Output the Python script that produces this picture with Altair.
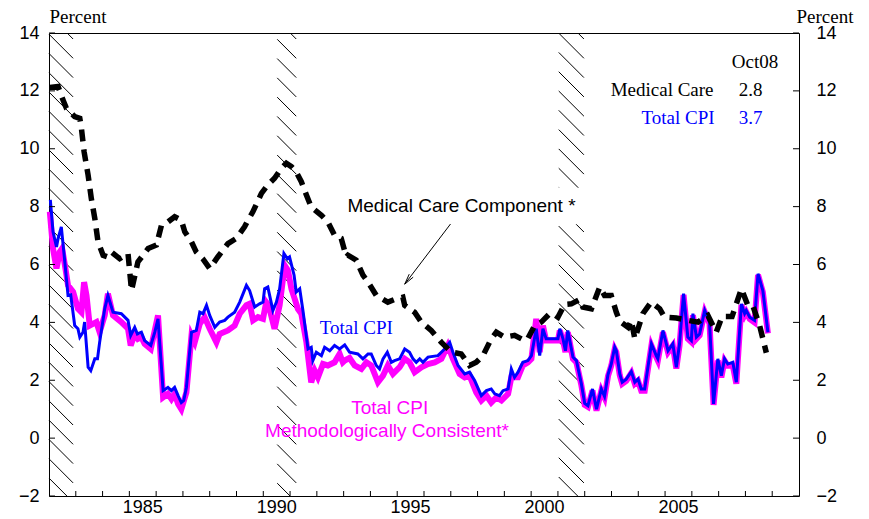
import math
import altair as alt
import pandas as pd

# ---------------- data ----------------
med_t = [1982.03, 1982.34, 1982.52, 1982.65, 1982.96, 1983.15, 1983.21, 1983.31, 1983.46, 1983.58,
         1983.71, 1983.83, 1984.02, 1984.20, 1984.33, 1984.64, 1984.95, 1985.08, 1985.32, 1985.51,
         1985.70, 1986.01, 1986.20, 1986.44, 1986.69, 1986.94, 1987.07, 1987.32, 1987.50, 1987.74,
         1988.00, 1988.30, 1988.68, 1988.99, 1989.30, 1989.43, 1989.61, 1989.93, 1990.17, 1990.42,
         1990.67, 1990.86, 1991.05, 1991.23, 1991.42, 1991.61, 1991.79, 1992.17, 1992.41, 1992.66,
         1992.91, 1993.10, 1993.16, 1993.47, 1993.72, 1993.91, 1994.22, 1994.65, 1994.90, 1995.21,
         1995.28, 1995.65, 1995.90, 1996.27, 1996.65, 1997.02, 1997.39, 1997.70, 1997.95, 1998.20,
         1998.51, 1998.70, 1999.01, 1999.38, 1999.76, 1999.87, 2000.13, 2000.38, 2000.69, 2000.81,
         2001.00, 2001.25, 2001.50, 2001.81, 2001.93, 2002.25, 2002.37, 2002.56, 2002.74, 2002.99,
         2003.18, 2003.31, 2003.62, 2003.74, 2003.87, 2004.17, 2004.48, 2004.80, 2004.98, 2005.42,
         2005.85, 2006.23, 2006.60, 2006.91, 2007.13, 2007.50, 2007.85, 2008.09, 2008.27, 2008.53,
         2008.78]
med_v = [12.12, 12.15, 11.69, 11.40, 11.11, 11.05, 10.71, 9.90, 9.09, 8.28,
         7.59, 6.78, 6.32, 6.26, 6.43, 6.20, 6.38, 5.10, 6.09, 6.32,
         6.55, 6.67, 7.36, 7.47, 7.65, 7.53, 7.13, 6.78, 6.43, 6.20,
         5.86, 6.26, 6.72, 6.90, 7.30, 7.53, 7.82, 8.46, 8.75, 8.98,
         9.32, 9.50, 9.38, 9.20, 8.86, 8.40, 7.99, 7.70, 7.47, 7.01,
         6.90, 6.26, 6.32, 6.15, 5.63, 5.39, 4.93, 4.70, 4.79, 4.87,
         4.59, 4.35, 4.01, 3.72, 3.31, 2.97, 2.91, 2.51, 2.62, 2.85,
         3.43, 3.66, 3.49, 3.55, 3.37, 3.43, 3.89, 4.01, 4.30, 4.30,
         4.18, 4.62, 4.64, 4.79, 4.53, 4.47, 4.76, 5.22, 4.93, 4.93,
         4.35, 4.04, 3.83, 4.07, 3.43, 4.30, 4.70, 4.47, 4.18, 4.15,
         4.07, 4.01, 4.24, 3.66, 4.20, 4.20, 5.16, 4.59, 4.59, 3.89,
         2.95]

cpi_t = [1982.05, 1982.15, 1982.28, 1982.34, 1982.46, 1982.59, 1982.71, 1982.81, 1982.96, 1983.08,
         1983.15, 1983.27, 1983.33, 1983.46, 1983.56, 1983.71, 1983.81, 1983.89, 1984.08, 1984.20,
         1984.39, 1984.70, 1984.95, 1985.05, 1985.20, 1985.30, 1985.45, 1985.57, 1985.80, 1985.95,
         1986.07, 1986.26, 1986.44, 1986.57, 1986.69, 1986.82, 1986.94, 1987.03, 1987.13, 1987.32,
         1987.50, 1987.63, 1987.75, 1987.88, 1988.00, 1988.19, 1988.37, 1988.56, 1988.68, 1988.93,
         1989.12, 1989.37, 1989.49, 1989.68, 1989.86, 1989.99, 1990.05, 1990.17, 1990.36, 1990.49,
         1990.61, 1990.77, 1990.90, 1990.98, 1991.15, 1991.23, 1991.36, 1991.48, 1991.67, 1991.79,
         1991.85, 1991.98, 1992.17, 1992.29, 1992.48, 1992.66, 1992.85, 1993.04, 1993.22, 1993.53,
         1993.72, 1993.91, 1994.03, 1994.22, 1994.34, 1994.47, 1994.63, 1994.78, 1994.90, 1995.09,
         1995.28, 1995.46, 1995.59, 1995.71, 1995.84, 1995.96, 1996.15, 1996.52, 1996.77, 1996.96,
         1997.08, 1997.27, 1997.52, 1997.70, 1997.89, 1998.14, 1998.33, 1998.51, 1998.64, 1998.82,
         1998.95, 1999.14, 1999.26, 1999.38, 1999.51, 1999.69, 1999.88, 2000.01, 2000.19, 2000.32,
         2000.44, 2000.56, 2001.00, 2001.07, 2001.19, 2001.28, 2001.37, 2001.56, 2001.69, 2001.87,
         2002.00, 2002.12, 2002.29, 2002.44, 2002.62, 2002.74, 2002.87, 2002.99, 2003.12, 2003.18,
         2003.31, 2003.40, 2003.55, 2003.74, 2003.87, 2003.99, 2004.11, 2004.24, 2004.49, 2004.67,
         2004.73, 2004.92, 2005.11, 2005.29, 2005.42, 2005.54, 2005.69, 2005.85, 2005.98, 2006.04,
         2006.17, 2006.29, 2006.48, 2006.66, 2006.81, 2006.97, 2007.10, 2007.22, 2007.34, 2007.53,
         2007.66, 2007.85, 2007.97, 2008.03, 2008.16, 2008.34, 2008.47, 2008.65, 2008.84]
cpi_v = [8.23, 7.13, 6.61, 6.90, 7.30, 6.09, 4.93, 4.95, 3.89, 3.78,
         3.49, 3.66, 4.01, 2.45, 2.33, 2.74, 2.74, 3.31, 4.47, 4.93,
         4.35, 4.30, 4.07, 3.55, 3.83, 3.60, 3.66, 3.37, 3.20, 3.66,
         4.12, 1.64, 1.75, 1.64, 1.75, 1.47, 1.23, 1.30, 1.75, 3.66,
         3.72, 4.35, 4.30, 4.59, 4.24, 3.83, 4.01, 4.07, 4.18, 4.35,
         4.70, 5.28, 5.10, 4.53, 4.64, 4.70, 5.16, 5.22, 4.41, 4.70,
         5.16, 6.38, 6.20, 6.26, 5.63, 5.05, 5.16, 4.41, 3.08, 3.14,
         2.68, 2.97, 2.85, 3.14, 3.02, 3.20, 3.08, 3.22, 2.97, 2.91,
         2.74, 2.91, 2.91, 2.51, 2.39, 2.74, 2.97, 2.62, 2.68, 2.74,
         3.08, 2.97, 2.74, 2.62, 2.74, 2.62, 2.80, 2.85, 3.08, 3.31,
         2.97, 2.51, 2.22, 2.28, 1.99, 1.47, 1.64, 1.70, 1.53, 1.47,
         1.64, 1.70, 2.39, 2.10, 2.28, 2.62, 2.68, 2.85, 3.78, 2.85,
         3.78, 3.43, 3.43, 3.78, 3.43, 3.02, 3.72, 2.80, 2.68, 1.90,
         1.20, 1.12, 1.70, 1.00, 1.70, 1.44, 2.20, 2.56, 3.14, 3.02,
         2.22, 1.93, 2.04, 2.30, 1.93, 2.04, 1.70, 1.70, 3.26, 2.85,
         2.74, 3.72, 3.02, 3.26, 2.45, 3.26, 4.99, 3.49, 3.37, 4.30,
         3.49, 3.60, 4.41, 4.01, 1.18, 2.74, 2.16, 2.74, 2.56, 2.62,
         1.93, 4.64, 4.30, 4.41, 4.18, 4.07, 5.68, 5.10, 3.66]

mc_t = [1982.03, 1982.15, 1982.28, 1982.40, 1982.49, 1982.59, 1982.71, 1982.90, 1983.08, 1983.21,
        1983.31, 1983.40, 1983.52, 1983.64, 1983.77, 1983.89, 1984.08, 1984.20, 1984.39, 1984.70,
        1984.95, 1985.05, 1985.20, 1985.32, 1985.45, 1985.57, 1985.80, 1986.07, 1986.26, 1986.44,
        1986.57, 1986.69, 1986.82, 1986.94, 1987.13, 1987.32, 1987.44, 1987.63, 1987.81, 1988.00,
        1988.25, 1988.37, 1988.68, 1988.93, 1989.12, 1989.37, 1989.49, 1989.62, 1989.80, 1989.99,
        1990.11, 1990.20, 1990.42, 1990.61, 1990.80, 1990.92, 1991.05, 1991.17, 1991.29, 1991.42,
        1991.61, 1991.79, 1991.92, 1992.04, 1992.23, 1992.41, 1992.66, 1992.85, 1992.97, 1993.04,
        1993.22, 1993.41, 1993.66, 1993.85, 1994.03, 1994.28, 1994.47, 1994.65, 1994.84, 1995.09,
        1995.28, 1995.46, 1995.65, 1995.90, 1996.15, 1996.40, 1996.65, 1996.89, 1997.08, 1997.33,
        1997.52, 1997.70, 1997.95, 1998.14, 1998.33, 1998.51, 1998.70, 1998.89, 1999.14, 1999.26,
        1999.51, 1999.69, 1999.88, 2000.01, 2000.19, 2000.32, 2000.44, 2000.56, 2001.00, 2001.07,
        2001.19, 2001.28, 2001.37, 2001.56, 2001.69, 2001.87, 2002.00, 2002.12, 2002.29, 2002.44,
        2002.62, 2002.74, 2002.87, 2002.99, 2003.12, 2003.18, 2003.31, 2003.40, 2003.55, 2003.74,
        2003.87, 2003.99, 2004.11, 2004.24, 2004.49, 2004.67, 2004.73, 2004.92, 2005.11, 2005.29,
        2005.42, 2005.54, 2005.69, 2005.85, 2005.98, 2006.04, 2006.17, 2006.29, 2006.48, 2006.66,
        2006.81, 2006.97, 2007.10, 2007.22, 2007.34, 2007.53, 2007.66, 2007.85, 2007.97, 2008.03,
        2008.16, 2008.34, 2008.47, 2008.65, 2008.84]
mc_v = [7.82, 6.55, 5.86, 6.43, 6.55, 6.00, 5.28, 5.05, 4.47, 4.35,
        5.39, 4.93, 3.89, 3.95, 4.01, 3.66, 4.24, 4.99, 4.24, 4.01,
        3.78, 3.20, 3.60, 3.43, 3.49, 3.26, 3.08, 4.24, 1.41, 1.53,
        1.35, 1.53, 1.18, 1.00, 1.58, 3.55, 3.31, 3.95, 4.18, 3.78,
        3.31, 3.60, 3.72, 3.89, 4.30, 4.59, 4.64, 4.07, 4.18, 4.12,
        4.70, 4.59, 3.78, 4.59, 5.97, 5.80, 5.16, 4.82, 4.47, 4.30,
        3.31, 1.93, 2.33, 2.10, 2.56, 2.51, 2.62, 2.91, 2.62, 2.68,
        2.77, 2.51, 2.39, 2.62, 2.51, 1.93, 2.16, 2.51, 2.22, 2.45,
        2.74, 2.62, 2.28, 2.45, 2.56, 2.62, 2.74, 3.20, 2.74, 2.22,
        2.10, 2.16, 1.58, 1.30, 1.47, 1.23, 1.41, 1.30, 1.53, 2.10,
        2.10, 2.51, 2.62, 2.74, 4.12, 2.97, 3.89, 3.37, 3.37, 3.72,
        3.38, 2.97, 3.66, 2.74, 2.62, 1.85, 1.15, 1.08, 1.64, 0.95,
        1.64, 1.40, 2.15, 2.50, 3.08, 2.97, 2.17, 1.88, 1.98, 2.25,
        1.88, 1.98, 1.64, 1.64, 3.20, 2.80, 2.68, 3.66, 2.97, 3.20,
        2.40, 3.20, 4.95, 3.43, 3.32, 4.25, 3.43, 3.55, 4.36, 3.96,
        1.15, 2.68, 2.10, 2.68, 2.50, 2.50, 1.88, 4.60, 4.25, 4.36,
        4.12, 4.00, 5.64, 5.05, 3.62]

recession_start = [1981.5, 1990.52, 2001.03]
recession_end = [1982.9, 1991.23, 2001.97]

y_ticks = [-2, 0, 2, 4, 6, 8, 10, 12, 14]
x_tick_years = list(range(1983, 2010))
x_label_years = [1985, 1990, 1995, 2000, 2005]

# ---------------- layout ----------------
X_MIN, X_MAX = 1982.0, 2010.0
Y_MIN, Y_MAX = -2.0, 14.0
W, H = 750, 463
kx = W / (X_MAX - X_MIN)
ky = H / (Y_MAX - Y_MIN)


def to_t(px):
    return X_MIN + px / kx


def to_v(py):
    return Y_MAX - py / ky


xs = alt.Scale(domain=[X_MIN, X_MAX], nice=False, zero=False)
ys = alt.Scale(domain=[Y_MIN, Y_MAX], nice=False, zero=False)
SANS = "Liberation Sans"
SERIF = "Liberation Serif"

# ---------------- recession hatching (derived from the recession dates) ----------------
SP = 19.3
hrows = []
for a, b in zip(recession_start, recession_end):
    a = max(a, X_MIN)
    xa, xb = (a - X_MIN) * kx, (b - X_MIN) * kx
    w = xb - xa
    c = -w + 6
    while c < H:
        x1, y1, x2, y2 = xa, c, xb, c + w
        if y1 < 0:
            x1, y1 = xa - c, 0.0
        if y2 > H:
            x2, y2 = xb - (y2 - H), float(H)
        if x2 > x1 + 0.5:
            hrows.append(dict(t1=to_t(x1), v1=to_v(y1), t2=to_t(x2), v2=to_v(y2)))
        c += SP
hatch_df = pd.DataFrame(hrows)

hatch = alt.Chart(hatch_df).mark_rule(color="black", strokeWidth=1).encode(
    x=alt.X("t1:Q", scale=xs, axis=None), x2="t2:Q",
    y=alt.Y("v1:Q", scale=ys, axis=None), y2="v2:Q")

# white box behind the medical-care label
lab_t, lab_v = 1997.4, 8.02
box = alt.Chart(pd.DataFrame({"a": [lab_t - 4.65], "b": [lab_t + 4.65],
                              "c": [lab_v - 0.63], "d": [lab_v + 0.63]})).mark_rect(
    color="white").encode(
    x=alt.X("a:Q", scale=xs, axis=None), x2="b:Q",
    y=alt.Y("c:Q", scale=ys, axis=None), y2="d:Q")


def series(t, v, **mk):
    df = pd.DataFrame({"t": t, "v": v})
    return alt.Chart(df).mark_line(**mk).encode(
        x=alt.X("t:Q", scale=xs, axis=None),
        y=alt.Y("v:Q", scale=ys, axis=None))


mc_line = series(mc_t, mc_v, color="#FF00FF", strokeWidth=6)
cpi_line = series(cpi_t, cpi_v, color="#0000FF", strokeWidth=3)
med_line = series(med_t, med_v, color="black", strokeWidth=5.5, strokeDash=[12, 8], strokeCap="butt")


def label(txt, t, v, color, font, size=19, align="center"):
    df = pd.DataFrame({"t": [t], "v": [v], "s": [txt]})
    return alt.Chart(df).mark_text(font=font, fontSize=size, color=color, align=align,
                                   baseline="middle").encode(
        x=alt.X("t:Q", scale=xs, axis=None), y=alt.Y("v:Q", scale=ys, axis=None), text="s:N")


texts = [
    label("Medical Care Component *", lab_t, lab_v, "black", SANS),
    label("Total CPI", 1993.47, 3.80, "#0000FF", SERIF),
    label("Total CPI", 1994.72, 1.03, "#FF00FF", SANS),
    label("Methodologically Consistent*", 1994.62, 0.24, "#FF00FF", SANS),
    label("Oct08", 2008.36, 13.01, "black", SERIF),
    label("Medical Care", 2006.81, 12.03, "black", SERIF, align="right"),
    label("2.8", 2008.19, 12.03, "black", SERIF),
    label("Total CPI", 2006.85, 11.05, "#0000FF", SERIF, align="right"),
    label("3.7", 2008.19, 11.05, "#0000FF", SERIF),
]

# arrow from the label to the medical-care line
a_t0, a_v0, a_t1, a_v1 = 1996.99, 7.40, 1995.28, 5.32
px0, py0 = (a_t0 - X_MIN) * kx, (Y_MAX - a_v0) * ky
px1, py1 = (a_t1 - X_MIN) * kx, (Y_MAX - a_v1) * ky
L = math.hypot(px0 - px1, py0 - py1)
ux, uy = (px0 - px1) / L, (py0 - py1) / L
arows = [dict(t1=a_t0, v1=a_v0, t2=a_t1, v2=a_v1)]
for ang in (math.radians(13), math.radians(-13)):
    rx = ux * math.cos(ang) - uy * math.sin(ang)
    ry = ux * math.sin(ang) + uy * math.cos(ang)
    arows.append(dict(t1=a_t1, v1=a_v1, t2=to_t(px1 + 11 * rx), v2=to_v(py1 + 11 * ry)))
arrow = alt.Chart(pd.DataFrame(arows)).mark_rule(color="black", strokeWidth=1).encode(
    x=alt.X("t1:Q", scale=xs, axis=None), x2="t2:Q",
    y=alt.Y("v1:Q", scale=ys, axis=None), y2="v2:Q")

# ---------------- axes and inward ticks ----------------
yt = pd.DataFrame({"v": y_ticks})
left = alt.Chart(yt).mark_rule(color="black").encode(
    y=alt.Y("v:Q", scale=ys, axis=alt.Axis(
        orient="left", values=y_ticks, labelPadding=10, title="Percent", titleAngle=0,
        titleX=0, titleY=-17, titleAlign="left", titleBaseline="middle")),
    x=alt.value(0), x2=alt.value(6))
right = alt.Chart(yt).mark_rule(color="black").encode(
    y=alt.Y("v:Q", scale=ys, axis=alt.Axis(
        orient="right", values=y_ticks, labelPadding=17, title="Percent", titleAngle=0,
        titleX=-3, titleY=-17, titleAlign="left", titleBaseline="middle")),
    x=alt.value(W - 6), x2=alt.value(W))
xt = pd.DataFrame({"t": x_tick_years})
bottom = alt.Chart(xt).mark_rule(color="black").encode(
    x=alt.X("t:Q", scale=xs, axis=None),
    y=alt.value(H - 5), y2=alt.value(H))

xl = pd.DataFrame({"t": [y + 0.5 for y in x_label_years], "s": [str(y) for y in x_label_years]})
xlabels = alt.Chart(xl).mark_text(font=SANS, fontSize=18, color="black", align="center",
                                  baseline="middle").encode(
    x=alt.X("t:Q", scale=xs, axis=None), y=alt.value(H + 12), text="s:N")

chart = alt.layer(
    hatch, box, mc_line, cpi_line, med_line, arrow, *texts, left, right, bottom, xlabels
).resolve_axis(y="independent").properties(
    width=W, height=H,
    autosize=alt.AutoSizeParams(type="none"),
    padding={"left": 41, "top": 25, "right": 62, "bottom": 22},
    background="white",
).configure_view(stroke="black", strokeWidth=1).configure_axis(
    grid=False, ticks=False, tickSize=0, domain=False,
    labelFont=SANS, labelFontSize=18, labelColor="black",
    titleFont=SERIF, titleFontSize=19, titleFontWeight="normal", titleColor="black",
)

chart.save("out.html", embed_options={"renderer": "svg", "actions": False})
